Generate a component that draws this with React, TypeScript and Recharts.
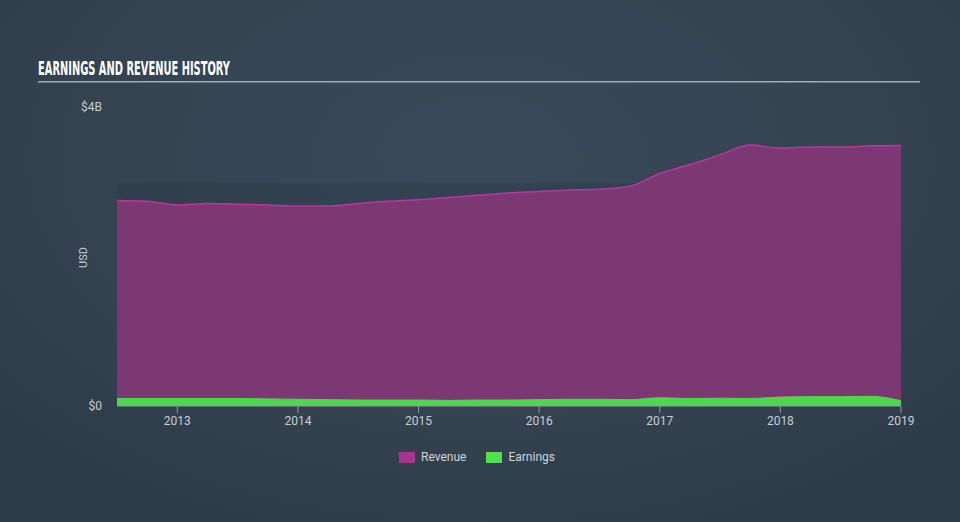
import React from 'react';
import { AreaChart, Area, XAxis, YAxis, ReferenceArea } from 'recharts';

const periods = [
  2012.5, 2012.75, 2013, 2013.25, 2013.5, 2013.75, 2014, 2014.25, 2014.5, 2014.75,
  2015, 2015.25, 2015.5, 2015.75, 2016, 2016.25, 2016.5, 2016.75, 2017, 2017.25,
  2017.5, 2017.75, 2018, 2018.25, 2018.5, 2018.75, 2019,
];
const revenue = [
  2.75, 2.74, 2.69, 2.71, 2.7, 2.69, 2.675, 2.675, 2.71, 2.74,
  2.76, 2.79, 2.82, 2.85, 2.87, 2.89, 2.9, 2.94, 3.11, 3.23,
  3.36, 3.49, 3.45, 3.465, 3.465, 3.48, 3.485,
];
const earnings = [
  0.1, 0.1, 0.1, 0.1, 0.1, 0.095, 0.09, 0.085, 0.08, 0.08,
  0.08, 0.075, 0.08, 0.08, 0.085, 0.09, 0.09, 0.085, 0.11, 0.1,
  0.105, 0.1, 0.12, 0.125, 0.125, 0.13, 0.07,
];
const xTicks = [2013, 2014, 2015, 2016, 2017, 2018, 2019];
const yTicks = [0, 4];
const yTickLabels = ['$0', '$4B'];
const seriesNames = ['Revenue', 'Earnings'];
const legendColors = ['#a8348f', '#4de34f'];
const bandRange = [0, 2.98];

const data = periods.map((p, i) => ({ t: p, revenue: revenue[i], earnings: earnings[i] }));

export default function App() {
  return (
    <div
      style={{
        position: 'absolute',
        left: 0,
        top: 0,
        width: 960,
        height: 522,
        overflow: 'hidden',
        background: 'radial-gradient(ellipse 70% 80% at 50% 30%, #39495a 0%, #34434f 60%, #2d3b48 100%)',
        fontFamily: 'Roboto, sans-serif',
      }}
    >
      <svg width={960} height={100} style={{ position: 'absolute', left: 0, top: 0 }}>
        <text
          x={38}
          y={75}
          textLength={192}
          lengthAdjust="spacingAndGlyphs"
          fontFamily="'DejaVu Sans Condensed', 'DejaVu Sans', sans-serif"
          fontWeight="bold"
          fontSize={20}
          fill="#ffffff"
        >
          EARNINGS AND REVENUE HISTORY
        </text>
        <rect x={38} y={81} width={882} height={1.5} fill="#a3acb4" />
      </svg>
      <div style={{ position: 'absolute', left: 0, top: 0 }}>
        <AreaChart width={960} height={522} data={data} margin={{ top: 107, right: 59, bottom: 86, left: 0 }}>
          <ReferenceArea y1={bandRange[0]} y2={bandRange[1]} fill="#1f2b37" fillOpacity={0.17} stroke="none" ifOverflow="visible" />
          <XAxis
            dataKey="t"
            type="number"
            domain={[2012.5, 2019]}
            ticks={xTicks}
            height={30}
            tickSize={7}
            tickMargin={3}
            stroke="#8f9ba6"
            tick={{ fill: '#c9ced3', fontSize: 12, fontFamily: 'Roboto, sans-serif' }}
            allowDataOverflow
          />
          <YAxis
            type="number"
            domain={[0, 4]}
            ticks={yTicks}
            width={117}
            axisLine={false}
            tickLine={false}
            tickSize={6}
            tickMargin={9}
            tickFormatter={(v: number) => yTickLabels[yTicks.indexOf(v)]}
            tick={{ fill: '#c9ced3', fontSize: 12, fontFamily: 'Roboto, sans-serif' }}
          />
          <Area
            type="monotone"
            dataKey="revenue"
            name={seriesNames[0]}
            stroke="#b8379f"
            strokeWidth={1.5}
            fill="#7b3873"
            fillOpacity={1}
            isAnimationActive={false}
          />
          <Area
            type="monotone"
            dataKey="earnings"
            name={seriesNames[1]}
            stroke="#50d850"
            strokeWidth={1}
            fill="#4fd64f"
            fillOpacity={1}
            isAnimationActive={false}
          />
        </AreaChart>
      </div>
      <div
        style={{
          position: 'absolute',
          left: 77,
          top: 258,
          transform: 'rotate(-90deg)',
          transformOrigin: 'left top',
          color: '#c9ced3',
          fontSize: 11,
          width: 0,
          height: 0,
        }}
      >
        <span style={{ position: 'absolute', left: -10, top: 0, whiteSpace: 'nowrap' }}>USD</span>
      </div>
      <div
        style={{
          position: 'absolute',
          left: 0,
          top: 450,
          width: 954,
          display: 'flex',
          justifyContent: 'center',
          alignItems: 'center',
          color: '#d0d4d8',
          fontSize: 12,
        }}
      >
        {seriesNames.map((n, i) => (
          <div key={n} style={{ display: 'flex', alignItems: 'center', marginRight: i === 0 ? 20 : 0 }}>
            <div style={{ width: 16, height: 11, background: legendColors[i], marginRight: 6 }} />
            <span>{n}</span>
          </div>
        ))}
      </div>
    </div>
  );
}
